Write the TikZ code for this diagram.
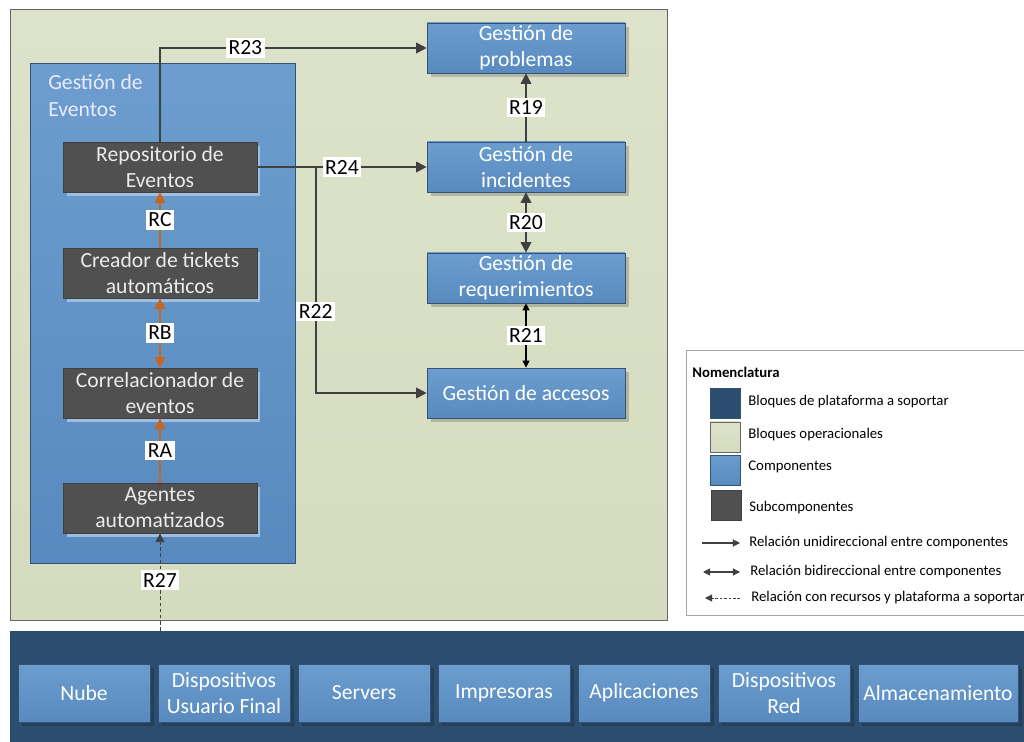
\documentclass[tikz,border=0pt]{standalone}
\usepackage{fontspec}
\setmainfont{Carlito}
\usepackage{xcolor}
\usetikzlibrary{arrows.meta, positioning, calc, shadows}

\definecolor{opgreen}{RGB}{221,227,202}
\definecolor{opgreenb}{RGB}{212,219,190}
\definecolor{comptop}{RGB}{108,157,206}
\definecolor{compbot}{RGB}{88,138,191}
\definecolor{compline}{RGB}{52,82,118}
\definecolor{platblue}{RGB}{43,78,111}
\definecolor{subgray}{RGB}{80,80,80}
\definecolor{relorange}{RGB}{200,102,30}
\definecolor{relgray}{RGB}{64,64,64}

\begin{document}
\begin{tikzpicture}[
    x=0.02cm, y=-0.02cm,
    font=\fontsize{12.3}{14.8}\selectfont,
    opblock/.style={draw=gray!80!black, top color=opgreen, bottom color=opgreenb, minimum width=13.14cm, minimum height=12.22cm, inner sep=0pt},
    group/.style={draw=compline, top color=comptop, bottom color=compbot, minimum width=5.3cm, minimum height=10cm, inner sep=0pt},
    comp/.style={draw=compline, top color=comptop, bottom color=compbot, text=white, minimum width=3.96cm, minimum height=1cm, align=center, inner sep=1pt, drop shadow={shadow xshift=2pt, shadow yshift=-2pt, fill=black, opacity=0.18}},
    sub/.style={draw=black!75, fill=subgray, text=white!92!black, minimum width=3.88cm, minimum height=1cm, align=center, inner sep=1pt, drop shadow={shadow xshift=2pt, shadow yshift=-2pt, fill=comptop!60!white, opacity=0.9}},
    platitem/.style={comp, minimum width=2.64cm, minimum height=1.16cm},
    lbl/.style={fill=white, text=black, inner sep=1.5pt},
    rel/.style={draw=relgray, line width=1.1pt, -{Triangle[length=6pt, width=6pt]}},
    relboth/.style={rel, {Triangle[length=6pt, width=6pt]}-{Triangle[length=6pt, width=6pt]}},
    relthin/.style={draw=black, line width=0.7pt, {Triangle[length=4pt, width=4pt]}-{Triangle[length=4pt, width=4pt]}},
    orel/.style={draw=relorange, line width=1.1pt, -{Triangle[length=6pt, width=6pt]}},
    orelboth/.style={orel, {Triangle[length=6pt, width=6pt]}-{Triangle[length=6pt, width=6pt]}},
    dashrel/.style={draw=relgray, line width=0.5pt, dash pattern=on 2pt off 1.5pt, -{Triangle[length=5pt, width=5pt]}},
    legsq/.style={minimum size=0.6cm, inner sep=0pt},
    legtxt/.style={anchor=west, font=\fontsize{8.4}{10}\selectfont, inner sep=0pt}
]
    \useasboundingbox (0,0) rectangle (1024,742);

    \node[opblock] (operacion) at (338.5,314.5) {};
    \node[group] (eventos) at (162.5,313) {};
    \node[anchor=north west, align=left, text=white!92!blue, inner sep=0pt, font=\fontsize{12.3}{15.2}\selectfont] (eventostit) at (48,74) {Gestión de\\Eventos};

    \node[sub] (repositorio) at (160,167) {Repositorio de\\Eventos};
    \node[sub] (creador) at (160,273) {Creador de tickets\\automáticos};
    \node[sub] (correlacion) at (160,393) {Correlacionador de\\eventos};
    \node[sub] (agentes) at (160,508) {Agentes\\automatizados};

    \node[comp] (problemas) at (526,48) {Gestión de\\problemas};
    \node[comp] (incidentes) at (526,167) {Gestión de\\incidentes};
    \node[comp] (requerim) at (526,278) {Gestión de\\requerimientos};
    \node[comp] (accesos) at (526,393) {Gestión de accesos};

    \node[fill=platblue, minimum width=20.4cm, minimum height=2.28cm, inner sep=0pt] (plataforma) at (520,688) {};
    \node[platitem] (nube) at (84,693) {Nube};
    \node[platitem] (usuario) at (224,693) {Dispositivos\\Usuario Final};
    \node[platitem] (servers) at (364,693) {Servers};
    \node[platitem] (impresoras) at (504,693) {Impresoras};
    \node[platitem] (aplicaciones) at (644,693) {Aplicaciones};
    \node[platitem] (red) at (784,693) {Dispositivos\\Red};
    \node[platitem, minimum width=3.2cm] (almacen) at (938,693) {Almacenamiento};

    % relaciones
    \draw[rel] (repositorio.north) |- node[lbl, pos=0.66] {R23} (problemas.west);
    \draw[rel] (repositorio.east) -- node[lbl] {R24} (incidentes.west);
    \coordinate (split) at ($(repositorio.east)!0.345!(incidentes.west)$);
    \draw[rel] (split) |- node[lbl, pos=0.32] {R22} (accesos.west);
    \draw[rel] (incidentes.north) -- node[lbl] {R19} (problemas.south);
    \draw[relboth] (incidentes.south) -- node[lbl] {R20} (requerim.north);
    \draw[relthin] (requerim.south) -- node[lbl] {R21} (accesos.north);

    \draw[orel] (creador.north) -- node[lbl] {RC} (repositorio.south);
    \draw[orelboth] (creador.south) -- node[lbl] {RB} (correlacion.north);
    \draw[orel] (agentes.north) -- node[lbl] {RA} (correlacion.south);
    \coordinate (r27start) at (agentes.south |- plataforma.north);
    \draw[dashrel] (r27start) -- node[lbl, pos=0.52] {R27} (agentes.south);

    % nomenclatura
    \node[draw=gray!70, fill=white, minimum width=6.96cm, minimum height=5.3cm, inner sep=0pt] (leyenda) at (860,482.5) {};
    \node[legtxt, font=\fontsize{8.4}{10}\selectfont\bfseries] (legtit) at (692,372) {Nomenclatura};
    \node[legsq, fill=platblue, draw=compline] (sqplat) at (725,403) {};
    \node[legsq, top color=opgreen, bottom color=opgreenb, draw=gray!80!black] (sqop) at (725,437) {};
    \node[legsq, top color=comptop, bottom color=compbot, draw=compline] (sqcomp) at (725,470) {};
    \node[legsq, fill=subgray, draw=black!75] (sqsub) at (726,505) {};
    \node[legtxt] (txplat) at (748,402) {Bloques de plataforma a soportar};
    \node[legtxt] (txop) at (748,435) {Bloques operacionales};
    \node[legtxt] (txcomp) at (748,467) {Componentes};
    \node[legtxt] (txsub) at (749,508) {Subcomponentes};

    \coordinate (uni1) at (702,543);
    \coordinate (uni2) at (740,543);
    \coordinate (bi1) at (703,572);
    \coordinate (bi2) at (740,572);
    \coordinate (da1) at (705,598);
    \coordinate (da2) at (740,598);
    \draw[draw=relgray, line width=0.6pt, -{Triangle[length=4pt, width=4pt]}] (uni1) -- (uni2);
    \draw[draw=relgray, line width=0.6pt, {Triangle[length=4pt, width=4pt]}-{Triangle[length=4pt, width=4pt]}] (bi1) -- (bi2);
    \draw[draw=relgray, line width=0.5pt, dash pattern=on 1.5pt off 1pt, -{Triangle[length=4pt, width=4pt]}] (da2) -- (da1);
    \node[legtxt] (txuni) at (749,543) {Relación unidireccional entre componentes};
    \node[legtxt] (txbi) at (750,572) {Relación bidireccional entre componentes};
    \node[legtxt] (txda) at (751,598) {Relación con recursos y plataforma a soportar};
\end{tikzpicture}
\end{document}
